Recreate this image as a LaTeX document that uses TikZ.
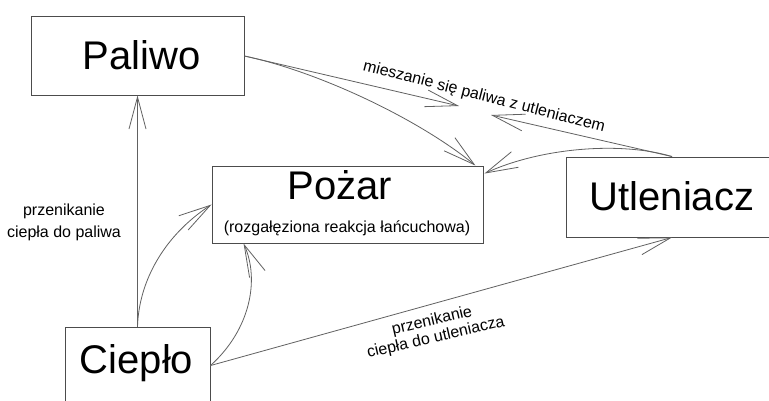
\documentclass[tikz,border=0pt]{standalone}
\usepackage{fontspec}
\setmainfont{Liberation Sans}
\usetikzlibrary{arrows.meta,calc}
\begin{document}
\begin{tikzpicture}[x=1pt,y=-1pt,
  box/.style={draw=black!70,line width=0.9pt,inner sep=0pt,rectangle},
  big/.style={inner sep=0pt,anchor=base,font=\fontsize{40}{46}\selectfont},
  small/.style={inner sep=0pt,anchor=base,font=\fontsize{16}{19}\selectfont},
  twoline/.style={inner sep=0pt,align=center,anchor=center},
  conn/.style={draw=black!62,line width=0.8pt,
    -{Straight Barb[length=32pt,width=17pt,line width=0.8pt]}}]
\clip (0,0) rectangle (769,401);
\fill[white] (0,0) rectangle (769,401);
% boxes
\node[box,minimum width=213pt,minimum height=79pt] (paliwo) at (137.5,55.5) {};
\node[box,minimum width=271pt,minimum height=77pt] (pozar) at (347.5,204.5) {};
\node[box,minimum width=212pt,minimum height=80pt] (utl) at (672,197) {};
\node[box,minimum width=145pt,minimum height=103pt] (ciep) at (137.5,378.5) {};
% texts
\node[big] (tpaliwo) at (141.5,70) {Paliwo};
\node[big] (tpozar) at (340,200) {Pożar};
\node[small] (tsub) at (347,233) {(rozgałęziona reakcja łańcuchowa)};
\node[big] (tutl) at (672,211) {Utleniacz};
\node[big] (tciep) at (136.5,373) {Ciepło};
% labels
\node[twoline,font=\fontsize{16}{22}\selectfont] (l1) at (64,222.8) {przenikanie\\ciepła do paliwa};
\node[small,rotate=-14.4] (lmix) at (483,101) {mieszanie się paliwa z utleniaczem};
\node[twoline,font=\fontsize{16}{17}\selectfont,rotate=13] (l2) at (434,329.5) {przenikanie\\ciepła do utleniacza};
% mixing points
\coordinate (mixA) at (459,106);
\coordinate (mixB) at (491,115);
% connectors
\draw[conn] (ciep.north) -- (paliwo.south);
\draw[conn] (ciep.north) .. controls (139,280) and (165,235) .. (pozar.west);
\draw[conn] ($(ciep.north east)+(0,39)$) .. controls (250,330) and (260,280) .. ($(pozar.south west)+(32,0)$);
\draw[conn] ($(ciep.north east)+(0,39)$) -- (utl.south);
\draw[conn] ($(paliwo.east)+(0,0.5)$) -- (mixA);
\draw[conn] ($(paliwo.east)+(0,0.5)$) .. controls (320,72) and (420,120) .. ($(pozar.north east)+(-8,0)$);
\draw[conn] (utl.north) -- (mixB);
\draw[conn] (utl.north) .. controls (620,141) and (540,148) .. ($(pozar.north east)+(1,8)$);
\end{tikzpicture}
\end{document}
